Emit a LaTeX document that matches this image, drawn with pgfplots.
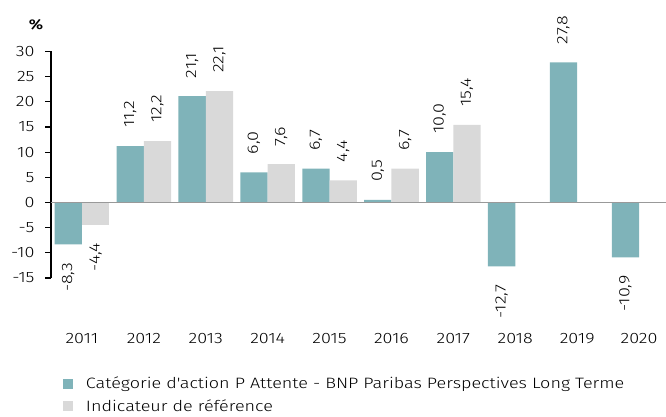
\documentclass[border=0pt]{standalone}
\usepackage{fontspec}
\setmainfont{Fira Sans Light}[FakeStretch=1.2]
\usepackage{pgfplots}
\usepackage{pgfplotstable}
\pgfplotsset{compat=1.18}
\definecolor{teal1}{HTML}{7FB3B9}
\definecolor{grey1}{HTML}{D9D9D9}
\pgfplotstableread{
x y lab
1 11.2 11,2
2 21.1 21,1
3 6.0 6,0
4 6.7 6,7
5 0.5 0,5
6 10.0 10,0
8 27.8 27,8
}\dataApos
\pgfplotstableread{
x y lab
0 -8.3 -8,3
7 -12.7 -12,7
9 -10.9 -10,9
}\dataAneg
\pgfplotstableread{
x y lab
1 12.2 12,2
2 22.1 22,1
3 7.6 7,6
4 4.4 4,4
5 6.7 6,7
6 15.4 15,4
}\dataBpos
\pgfplotstableread{
x y lab
0 -4.4 -4,4
}\dataBneg
\begin{document}
\begin{tikzpicture}
\path[use as bounding box] (0pt,0pt) rectangle (666pt,-416pt);
\node[font=\fontsize{14}{16}\selectfont\bfseries] at (36pt,-25pt) {\%};
\begin{axis}[
  at={(51pt,-278pt)}, anchor=south west,
  scale only axis, width=615pt, height=226.6pt,
  xmin=-0.5, xmax=9.435, ymin=-15, ymax=30,
  ybar, bar width=27.3pt,
  axis y line*=left, axis x line*=bottom,
  x axis line style={draw=none},
  y axis line style={black, line width=1.2pt},
  xtick={0,...,9},
  xticklabels={2011,2012,2013,2014,2015,2016,2017,2018,2019,2020},
  xtick style={draw=none},
  ytick={-15,-10,-5,0,5,10,15,20,25,30},
  yticklabels={-15,-10,-5,0,5,10,15,20,25,30},
  tick align=outside, ytick style={black, line width=1.2pt},
  major tick length=6pt,
  ticklabel style={font=\fontsize{15}{17}\selectfont},
  xticklabel style={yshift=-46pt},
  yticklabel style={xshift=-7pt},
  legend style={at={(0.0143,-0.4194)}, anchor=north west, draw=none, fill=none,
     font=\fontsize{15}{17}\selectfont, row sep=5pt, column sep=11pt},
  legend cell align=left,
  legend image code/.code={\fill[#1] (0pt,-5pt) rectangle (10pt,5pt);},
  nodes near coords={\pgfplotspointmeta},
  point meta=explicit symbolic,
  every node near coord/.append style={rotate=90, inner xsep=18pt, inner ysep=0pt,
     font=\fontsize{15}{17}\selectfont, text=black},
  pos/.style={every node near coord/.append style={anchor=west}},
  neg/.style={every node near coord/.append style={anchor=east}},
  clip=false,
]
\addplot[fill=teal1, draw=none, bar shift=-13.65pt, pos] table[x=x, y=y, meta=lab] {\dataApos};
\addplot[fill=grey1, draw=none, bar shift=13.65pt, pos] table[x=x, y=y, meta=lab] {\dataBpos};
\addplot[fill=teal1, draw=none, bar shift=-13.65pt, neg, forget plot] table[x=x, y=y, meta=lab] {\dataAneg};
\addplot[fill=grey1, draw=none, bar shift=13.65pt, neg, forget plot] table[x=x, y=y, meta=lab] {\dataBneg};
\legend{Catégorie d\textquotesingle action P Attente - BNP Paribas Perspectives Long Terme, Indicateur de référence}
\draw[gray!80, line width=1.6pt] (axis cs:-0.5,0) -- (axis cs:9.435,0);
\end{axis}
\end{tikzpicture}
\end{document}
